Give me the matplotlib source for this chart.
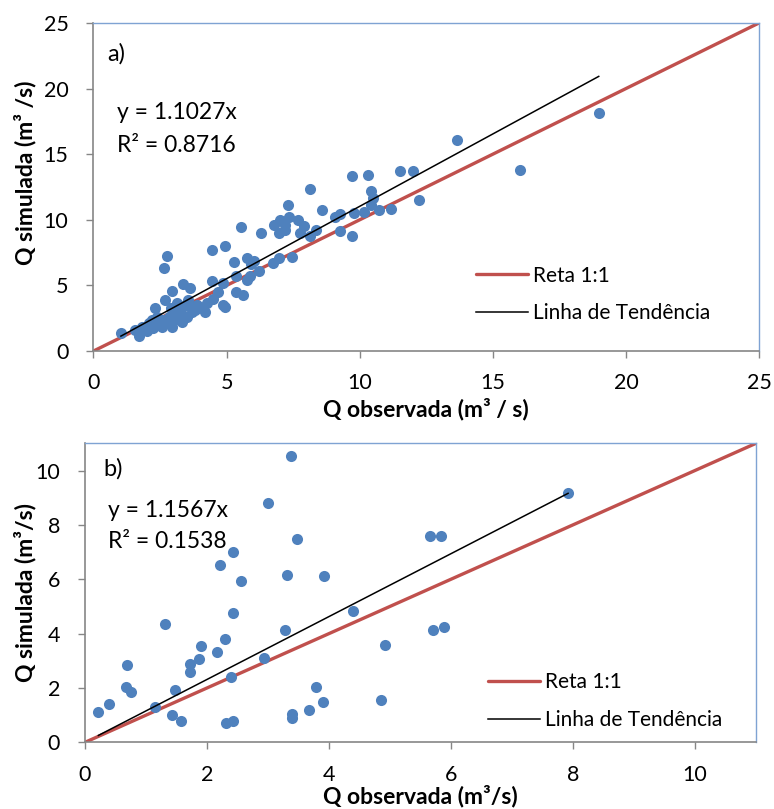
import numpy as np
import matplotlib
matplotlib.use('Agg')
import matplotlib.pyplot as plt

# ——————————————————————————————————————————————
# dados lidos do gráfico
# painel a)
xa_obs = [1.03, 1.56, 1.72, 1.81, 2.0, 2.18, 2.25, 2.31, 2.45, 2.56, 2.6, 2.68, 2.65, 2.75,
          2.8, 2.85, 2.94, 2.94, 3.0, 3.12, 3.2, 3.31, 3.37, 3.4, 3.5, 3.55, 3.62, 3.7, 3.81,
          3.87, 4.19, 4.44, 4.44, 4.5, 4.68, 4.25, 4.87, 4.87, 4.94, 4.95, 5.29, 5.37, 5.37,
          5.54, 5.62, 5.75, 5.77, 5.87, 6.03, 6.2, 6.29, 6.75, 6.78, 6.95, 6.98, 7.0, 7.19,
          7.30, 7.35, 7.44, 7.70, 7.75, 7.90, 8.13, 8.13, 8.35, 8.57, 9.07, 9.25, 9.25, 9.72,
          9.70, 9.79, 10.15, 10.32, 10.41, 10.44, 10.5, 10.73, 11.17, 11.51, 12.0, 12.21,
          13.67, 16.01, 18.98, 3.0, 2.4, 3.9, 4.1, 2.1, 3.3, 5.9, 7.2, 3.6, 2.9]
ya_sim = [1.35, 1.6, 1.15, 1.86, 1.5, 2.37, 1.73, 3.26, 2.0, 1.85, 2.4, 3.9, 6.3, 7.21,
          2.2, 2.6, 4.55, 1.86, 3.0, 3.65, 2.7, 2.24, 5.1, 3.4, 2.6, 3.9, 4.79, 3.0, 3.13,
          3.26, 2.95, 5.3, 7.72, 4.0, 4.53, 3.65, 5.17, 3.5, 3.39, 7.97, 6.8, 5.68, 4.53,
          9.43, 4.28, 5.43, 7.09, 5.68, 6.88, 6.1, 9.0, 6.7, 9.61, 9.0, 7.11, 9.96, 9.25,
          11.14, 10.22, 7.19, 10.02, 9.0, 9.5, 12.31, 8.79, 9.25, 10.75, 10.19, 10.47, 9.17, 8.74,
          13.33, 10.53, 10.6, 13.38, 12.23, 11.16, 11.67, 10.78, 10.86, 13.69, 13.69, 11.54,
          16.08, 13.81, 18.17, 2.3, 2.6, 3.5, 3.3, 2.1, 2.9, 6.6, 9.6, 3.5, 3.3]
slope_a, r2_a = 1.1027, 0.8716

# painel b)
xb_obs = [0.22, 0.40, 0.69, 0.68, 0.75, 1.15, 1.31, 1.43, 1.48, 1.57, 1.72, 1.72, 1.87, 1.91,
          2.16, 2.22, 2.30, 2.31, 2.42, 2.42, 2.42, 2.40, 2.55, 2.93, 3.00, 3.31, 3.28, 3.37,
          3.48, 3.40, 3.40, 3.67, 3.79, 3.91, 3.92, 4.40, 4.86, 4.92, 5.66, 5.83, 5.71, 5.89, 7.92]
yb_sim = [1.13, 1.40, 2.84, 2.05, 1.87, 1.30, 4.37, 1.01, 1.93, 0.77, 2.88, 2.57, 3.06, 3.54,
          3.34, 6.53, 3.79, 0.72, 0.80, 7.01, 4.77, 2.42, 5.95, 3.12, 8.79, 6.16, 4.12, 10.54,
          7.47, 1.03, 0.91, 1.18, 2.05, 1.50, 6.12, 4.83, 1.56, 3.57, 7.59, 7.59, 4.12, 4.25, 9.19]
slope_b, r2_b = 1.1567, 0.1538
# ——————————————————————————————————————————————

plt.rcParams['font.family'] = ['Lato', 'DejaVu Sans']

BLUE = '#4F81BD'
RED = '#C0504D'
GRAY = '#868686'
TICK_FS = 15.5
LABEL_FS = 16.5
TEXT_FS = 16.5
LEG_FS = 15


def draw_panel(ax, x, y, slope, r2, lim, step, tag, tag_pos, eq_pos, leg_pos,
               xlabel, ylabel, xlab_pos, ylab_pos):
    x = np.array(x)
    ax.scatter(x, y, s=64, color=BLUE, zorder=2, linewidths=0)
    ax.plot([0, lim], [0, lim], color=RED, lw=2.4, zorder=1.5, label='Reta 1:1',
            solid_capstyle='round')
    # linha de tendência (y = a*x) do menor ao maior x observado
    xt = np.array([x.min(), x.max()])
    ax.plot(xt, slope * xt, color='black', lw=1.1, zorder=3, label='Linha de Tendência')
    ax.set_xlim(0, lim)
    ax.set_ylim(0, lim)
    ticks = np.arange(0, lim + 0.01, step)
    ax.set_xticks(ticks)
    ax.set_yticks(ticks)
    ax.tick_params(direction='out', length=5, width=1, color=GRAY, labelsize=TICK_FS)
    ax.tick_params(axis='x', pad=11)
    ax.tick_params(axis='y', pad=13)
    for s in ['left', 'bottom']:
        ax.spines[s].set_color(GRAY)
        ax.spines[s].set_linewidth(1.2)
    for s in ['top', 'right']:
        ax.spines[s].set_color('#7FA3D3')
        ax.spines[s].set_linewidth(1.0)

    ax.set_xlabel(xlabel, fontsize=LABEL_FS, fontweight='bold', va='center')
    ax.set_ylabel(ylabel, fontsize=LABEL_FS, fontweight='bold', va='center')
    ax.xaxis.set_label_coords(*xlab_pos)
    ax.yaxis.set_label_coords(*ylab_pos)

    ax.text(tag_pos[0], tag_pos[1], tag, transform=ax.transAxes, fontsize=17,
            va='center', ha='left')
    ax.text(eq_pos[0], eq_pos[1], f'y = {slope}x', transform=ax.transAxes,
            fontsize=TEXT_FS, va='center')
    ax.text(eq_pos[0], eq_pos[2], f'R² = {r2}', transform=ax.transAxes,
            fontsize=TEXT_FS, va='center')
    ax.legend(loc='center left', bbox_to_anchor=leg_pos, frameon=False, fontsize=LEG_FS,
              handlelength=2.5, handletextpad=0.25, labelspacing=0.85,
              borderaxespad=0, borderpad=0)
    return ax


fig = plt.figure(figsize=(7.74, 8.09), dpi=100)
ax1 = fig.add_axes([0.1208, 0.5661, 0.8598, 0.4055])
ax2 = fig.add_axes([0.1098, 0.0824, 0.8669, 0.3696])

draw_panel(ax1, xa_obs, ya_sim, slope_a, r2_a, 25, 5, 'a)', (0.02, 0.905),
           (0.035, 0.726, 0.625), (0.575, 0.172),
           'Q observada (m³ / s)', 'Q simulada (m³ /s)', (0.5, -0.177), (-0.103, 0.543))

draw_panel(ax2, xb_obs, yb_sim, slope_b, r2_b, 11, 2, 'b)', (0.027, 0.914),
           (0.034, 0.774, 0.673), (0.6, 0.138),
           'Q observada (m³/s)', 'Q simulada (m³/s)', (0.5, -0.18), (-0.089, 0.5))

fig.savefig('out.png', dpi=100)
